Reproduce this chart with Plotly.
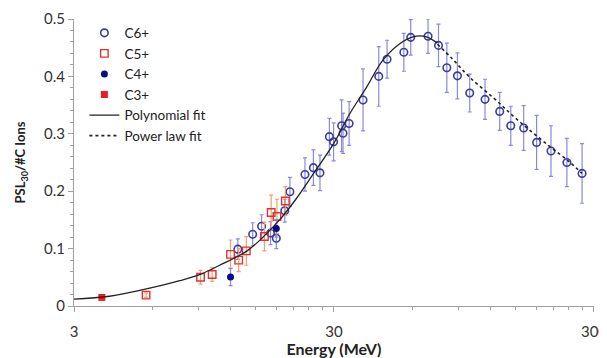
import plotly.graph_objects as go

# ---------------- data ----------------
c6_energy = [12.8, 14.6, 15.8, 17.1, 18.0, 19.4, 20.3, 23.2, 25.0, 26.5, 28.8, 29.9,
             32.1, 32.5, 34.3, 38.8, 44.6, 48.0, 55.7, 59.2, 69.0, 75.7, 81.5, 89.5,
             99.8, 114.3, 130.2, 143.6, 161.0, 180.5, 205.0, 236.0, 270.0]
c6_psl = [0.099, 0.125, 0.139, 0.127, 0.118, 0.166, 0.199, 0.229, 0.241, 0.232, 0.295, 0.286,
          0.314, 0.301, 0.318, 0.359, 0.400, 0.430, 0.442, 0.468, 0.470, 0.454, 0.415, 0.401,
          0.371, 0.360, 0.339, 0.314, 0.310, 0.285, 0.270, 0.250, 0.231]
c6_err = [0.018, 0.02, 0.02, 0.02, 0.018, 0.02, 0.025, 0.029, 0.031, 0.031, 0.032, 0.033,
          0.045, 0.035, 0.038, 0.054, 0.052, 0.033, 0.033, 0.031, 0.030, 0.037, 0.043, 0.040,
          0.033, 0.035, 0.033, 0.034, 0.039, 0.047, 0.044, 0.042, 0.052]

c5_energy = [5.68, 9.2, 10.2, 12.0, 12.9, 13.8, 16.2, 17.2, 18.1, 19.5]
c5_psl = [0.019, 0.050, 0.055, 0.090, 0.080, 0.096, 0.121, 0.163, 0.156, 0.183]
c5_err = [0.004, 0.012, 0.012, 0.025, 0.02, 0.025, 0.025, 0.03, 0.03, 0.025]

c4_energy = [12.0, 18.0]
c4_psl = [0.0505, 0.135]
c4_err = [0.015, 0.015]

c3_energy = [3.84]
c3_psl = [0.015]

poly_energy = [3.0, 4.11, 5.87, 7.66, 9.17, 10.9, 13.9, 16.0, 18.6, 21.4, 24.6, 29.9,
               34.4, 40.0, 46.2, 53.7, 60.4, 68.0, 75.0]
poly_psl = [0.012, 0.017, 0.031, 0.044, 0.055, 0.071, 0.096, 0.120, 0.151, 0.186, 0.226, 0.283,
            0.334, 0.381, 0.428, 0.457, 0.469, 0.469, 0.458]

power_energy = [75.0, 85.0, 100.0, 125.0, 150.0, 200.0, 240.0, 270.0]
power_psl = [0.456, 0.432, 0.398, 0.360, 0.327, 0.280, 0.252, 0.231]

x_tick_vals = [3, 30, 300]
x_tick_text = ["3", "30", "300"]
x_minor_vals = [6, 9, 12, 15, 18, 21, 24, 27, 60, 90, 120, 150, 180, 210, 240, 270]
y_tick_vals = [0, 0.1, 0.2, 0.3, 0.4, 0.5]
y_tick_text = ["0", "0.1", "0.2", "0.3", "0.4", "0.5"]

FONT = "Lato, 'Open Sans', sans-serif"

fig = go.Figure()

fig.add_trace(go.Scatter(
    x=c6_energy, y=c6_psl, mode="markers", name="C6+",
    marker=dict(symbol="circle-open", size=7.5, color="#3b3ba6", line=dict(width=1.6)),
    error_y=dict(type="data", array=c6_err, color="#8a8ad8", thickness=1.2, width=2),
))
fig.add_trace(go.Scatter(
    x=c5_energy, y=c5_psl, mode="markers", name="C5+",
    marker=dict(symbol="square-open", size=7.5, color="#e0332e", line=dict(width=1.4)),
    error_y=dict(type="data", array=c5_err, color="#eea070", thickness=1.2, width=2),
))
fig.add_trace(go.Scatter(
    x=c4_energy, y=c4_psl, mode="markers", name="C4+",
    marker=dict(symbol="circle", size=7, color="#0a0a8c"),
    error_y=dict(type="data", array=c4_err, color="#8a8ad8", thickness=1.2, width=2),
))
fig.add_trace(go.Scatter(
    x=c3_energy, y=c3_psl, mode="markers", name="C3+",
    marker=dict(symbol="square", size=7, color="#ee1c1c"),
))
fig.add_trace(go.Scatter(
    x=poly_energy, y=poly_psl, mode="lines", name="Polynomial fit",
    line=dict(color="#222222", width=1.3, shape="spline", smoothing=1.0),
))
fig.add_trace(go.Scatter(
    x=power_energy, y=power_psl, mode="lines", name="Power law fit",
    line=dict(color="#222222", width=1.6, dash="dot", shape="spline", smoothing=1.0),
))

fig.update_layout(
    width=599, height=350,
    margin=dict(l=66, r=13, t=11, b=52, autoexpand=False),
    paper_bgcolor="white", plot_bgcolor="white",
    font=dict(family=FONT, size=14, color="#333333"),
    legend=dict(x=0.02, y=1.005, xanchor="left", yanchor="top",
                bgcolor="rgba(0,0,0,0)", font=dict(size=13.5, color="#222222"),
                tracegroupgap=0, itemwidth=30),
    showlegend=True,
)

fig.update_xaxes(
    type="log", range=[0.47712, 2.4772],
    tickmode="array", tickvals=x_tick_vals, ticktext=x_tick_text,
    ticks="outside", ticklen=5, tickcolor="#a0a0a0",
    ticklabelstandoff=7, ticklabeloverflow="allow", automargin=False,
    showline=True, linecolor="#a0a0a0", linewidth=1,
    showgrid=False, zeroline=False,
    tickfont=dict(size=15, color="#333333"),
    minor=dict(tickmode="array", tickvals=x_minor_vals, ticks="outside", ticklen=3,
               tickcolor="#a0a0a0", showgrid=False),
    title=dict(text="<b>Energy (MeV)</b>", font=dict(size=16, color="#222222"), standoff=4),
)
fig.update_yaxes(
    range=[0, 0.5], automargin=False,
    tickmode="array", tickvals=y_tick_vals, ticktext=y_tick_text,
    ticks="outside", ticklen=5, tickcolor="#a0a0a0",
    showline=True, linecolor="#a0a0a0", linewidth=1,
    showgrid=False, zeroline=False,
    tickfont=dict(size=15, color="#333333"),
    minor=dict(dtick=0.02, ticks="outside", ticklen=3, tickcolor="#a0a0a0", showgrid=False),
    title=dict(text="<b>PSL<sub>30</sub>/#C Ions</b>", font=dict(size=13, color="#222222"), standoff=15),
)

fig.write_html("out.html")
